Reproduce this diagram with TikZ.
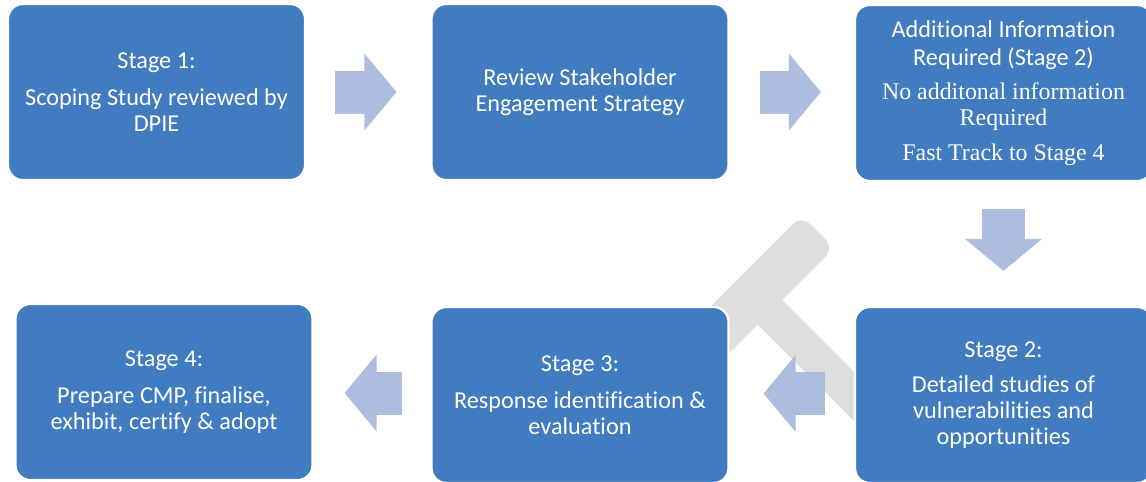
\documentclass[tikz,border=0pt]{standalone}
\usepackage{fontspec}
\setmainfont{Carlito}[Ligatures=NoCommon]
\newfontfamily\timesfont{Liberation Serif}
\usetikzlibrary{arrows.meta,calc}
\definecolor{stageblue}{RGB}{64,124,191}
\definecolor{arrowblue}{RGB}{173,189,221}
\definecolor{ghostgrey}{RGB}{222,222,222}
\newcommand{\tnote}[1]{{\timesfont\fontsize{13.6}{14.4}\selectfont #1}}

\begin{document}
\begin{tikzpicture}[x=0.02cm,y=-0.02cm,
		stage/.style={fill=stageblue,draw=white,line width=1.2pt,rounded corners=0.3cm,minimum width=5.94cm,minimum height=3.52cm,text=white,align=center,font=\fontsize{13.8}{14.8}\selectfont},
		blockarrow/.style={arrowblue,line width=0.86cm,-{Triangle[length=0.64cm,width=1.5cm]}}]
	\useasboundingbox (0,0) rectangle (1146,481);
	% grey shape behind the boxes
	\fill[ghostgrey] (693.5,323.5) [rounded corners=0.24cm] -- (801.5,215.5) -- (834,248) [sharp corners] -- (782,300) -- (891,409) -- (866.5,433.5) -- (757.5,324.5) -- (726,356) -- cycle;
	\node[stage] (s1) at (156.5,92) {Stage 1:\\[6pt]Scoping Study reviewed by\\DPIE};
	\node[stage] (s2) at (580,92) {Review Stakeholder\\Engagement Strategy};
	\node[stage] (s3) at (1003.5,93) {Additional Information\\[1pt]Required (Stage 2)\\[4.9pt]\tnote{No additonal information}\\\tnote{Required}\\[5pt]\tnote{Fast Track to Stage 4}};
	\node[stage] (s4) at (164,392) {Stage 4:\\[6pt]Prepare CMP, finalise,\\exhibit, certify \& adopt};
	\node[stage] (s5) at (580,395) {Stage 3:\\[6pt]Response identification \&\\evaluation};
	\node[stage] (s6) at (1003.5,395) {Stage 2:\\[5pt]Detailed studies of\\vulnerabilities and\\opportunities};
	\draw[blockarrow] ($(s1.east)+(29,0)$) -- ($(s2.west)+(-34,0)$);
	\draw[blockarrow] ($(s2.east)+(30,0)$) -- ($(s3.west)+(-33,-1)$);
	\draw[blockarrow] ($(s3.south)+(0,27)$) -- ($(s6.north)+(0,-35)$);
	\draw[blockarrow] ($(s6.west)+(-29,-1.5)$) -- ($(s5.east)+(34,-1.5)$);
	\draw[blockarrow] ($(s5.west)+(-28,-2)$) -- ($(s4.east)+(31,1)$);
\end{tikzpicture}
\end{document}
